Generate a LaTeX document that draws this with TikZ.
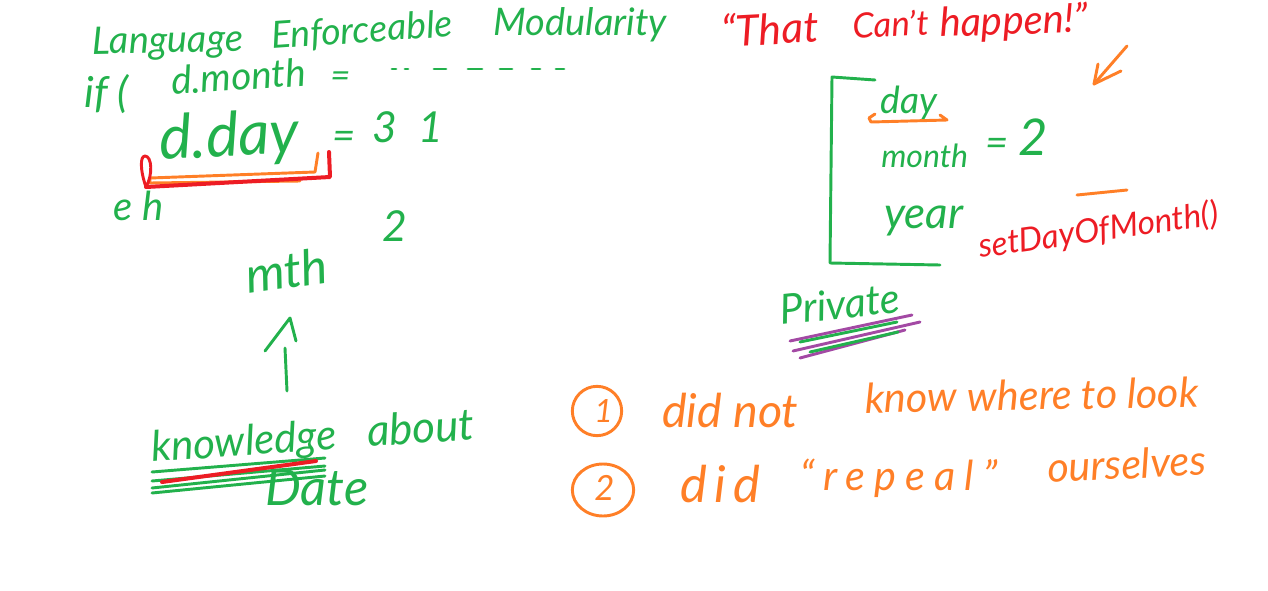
\documentclass[tikz,border=0pt]{standalone}
\usepackage{fontspec}
\setmainfont{Lato}
\usetikzlibrary{shapes.geometric}
\definecolor{inkgreen}{HTML}{22B14C}
\definecolor{inkred}{HTML}{ED1C24}
\definecolor{inkorange}{HTML}{FF7F27}
\definecolor{inkpurple}{HTML}{A349A4}
\tikzset{
  word/.style={font=\fontsize{#1}{#1}\selectfont\itshape, inner sep=0pt, anchor=base west},
  greenword/.style={word=#1, text=inkgreen},
  redword/.style={word=#1, text=inkred},
  orangeword/.style={word=#1, text=inkorange},
  stroke/.style={line width=2.2pt, line cap=round, line join=round},
  loopmark/.style={stroke, draw=inkorange, ellipse, inner sep=0pt}
}
\begin{document}
\begin{tikzpicture}[x=0.75pt, y=-0.75pt]
  \useasboundingbox (0,0) rectangle (1268,590);
  % title
  \node [greenword=28.5, rotate=1] (language) at (92,54) {Language};
  \node [greenword=28, rotate=4] (enforceable) at (272,49) {Enforceable};
  \node [greenword=28.5] (modularity) at (493,35) {Modularity};
  \node [redword=32, rotate=3] (that) at (722,47) {``That};
  \node [redword=26, rotate=3] (cant) at (853,39) {Can't};
  \node [redword=30, rotate=2] (happen) at (940,37) {happen!''};
  % left code
  \node [greenword=32] (ifword) at (84,107) {if (};
  \node [greenword=29, rotate=4] (dmonth) at (172,95) {d.month};
  \node [greenword=26] (monthEq) at (330,87) {=};
  \foreach \xa/\xb in {392/396, 405/408, 434/446, 468/482, 500/512, 532/540, 556/564}
    \draw [stroke, inkgreen] (\xa,69) -- (\xb,69);
  \node [greenword=46, rotate=3] (dday) at (160,160) {d.day};
  \node [greenword=30] (dayEq) at (332,149) {=};
  \node [greenword=32] (dayVal) at (372,142) {3\hspace{0.5em}1};
  \node [greenword=30] (eh) at (113,220) {e\hspace{0.25em}h};
  \node [greenword=37, rotate=8] (mth) at (248,294) {mth};
  \node [greenword=32] (two) at (382,241) {2};
  % red and orange marks under d.day
  \draw [stroke, inkorange] (318,153) -- (315,172) -- (150,178) -- (150,183) -- (300,181);
  \draw [stroke, inkred, line width=3pt] (146,187) -- (330,177) -- (329,152);
  \draw [stroke, inkred] (146,187) .. controls (140,170) and (140,156) .. (145,156) .. controls (152,156) and (153,175) .. (146,187);
  % arrow up
  \coordinate (arrowtail) at (287,391);
  \coordinate (arrowtip) at (290,318);
  \draw [stroke, inkgreen] (arrowtail) -- (285,348);
  \draw [stroke, inkgreen] (265,351) -- (arrowtip) -- (296,341);
  % knowledge
  \node [greenword=31.5, rotate=4] (knowledge) at (152,462) {knowledge};
  \node [greenword=33, rotate=4] (about) at (368,447) {about};
  \node [greenword=38] (date) at (265,505) {Date};
  \foreach \ya/\yb in {472/458, 481/466, 488/470, 493/476}
    \draw [stroke, inkgreen] (152,\ya) -- (325,\yb);
  \draw [stroke, inkred, line width=3pt] (162,482) -- (316,461);
  % record
  \draw [stroke, inkgreen] (875,80) -- (832,77) -- (830,263) -- (940,265);
  \node [greenword=28] (dayField) at (880,113) {day};
  \draw [stroke, inkorange] (875,114) -- (869,118) -- (871,122) -- (947,120) -- (940,115);
  \node [greenword=24] (monthField) at (881,167) {month};
  \node [greenword=30] (monthEqTwo) at (985,156) {=};
  \node [greenword=38] (monthVal) at (1018,155) {2};
  \node [greenword=33] (yearField) at (884,228) {year};
  \node [greenword=31, rotate=6] (private) at (781,325) {Private};
  \foreach \xa/\ya/\xb/\yb in {790/341/912/315, 793/351/920/322, 800/358/905/330}
    \draw [stroke, inkpurple] (\xa,\ya) -- (\xb,\yb);
  \foreach \xa/\ya/\xb/\yb in {800/342/897/322, 810/352/898/332}
    \draw [stroke, inkgreen] (\xa,\ya) -- (\xb,\yb);
  \node [redword=25, rotate=8] (setter) at (980,258) {setDayOfMonth()};
  \draw [stroke, inkorange] (1077,195) -- (1127,190);
  \coordinate (pointertail) at (1127,46);
  \coordinate (pointertip) at (1094,84);
  \draw [stroke, inkorange] (pointertail) -- (pointertip);
  \draw [stroke, inkorange] (1098,64) -- (pointertip) -- (1121,71);
  % list
  \node [loopmark, minimum width=37pt, minimum height=37pt] (circleOne) at (597,411) {};
  \node [orangeword=24] (one) at (594,422) {1};
  \node [loopmark, minimum width=46pt, minimum height=39pt] (circleTwo) at (603,490) {};
  \node [orangeword=26] (twoItem) at (594,500) {2};
  \node [orangeword=35] (didnot) at (662,427) {did not};
  \node [orangeword=31, rotate=1] (knowwhere) at (865,413) {know where to look};
  \node [orangeword=38] (did) at (680,502) {\addfontfeature{LetterSpace=15}did};
  \node [orangeword=31] (repeal) at (800,490) {\addfontfeature{LetterSpace=22}``repeal''};
  \node [orangeword=31, rotate=3] (ourselves) at (1048,483) {ourselves};
\end{tikzpicture}
\end{document}
